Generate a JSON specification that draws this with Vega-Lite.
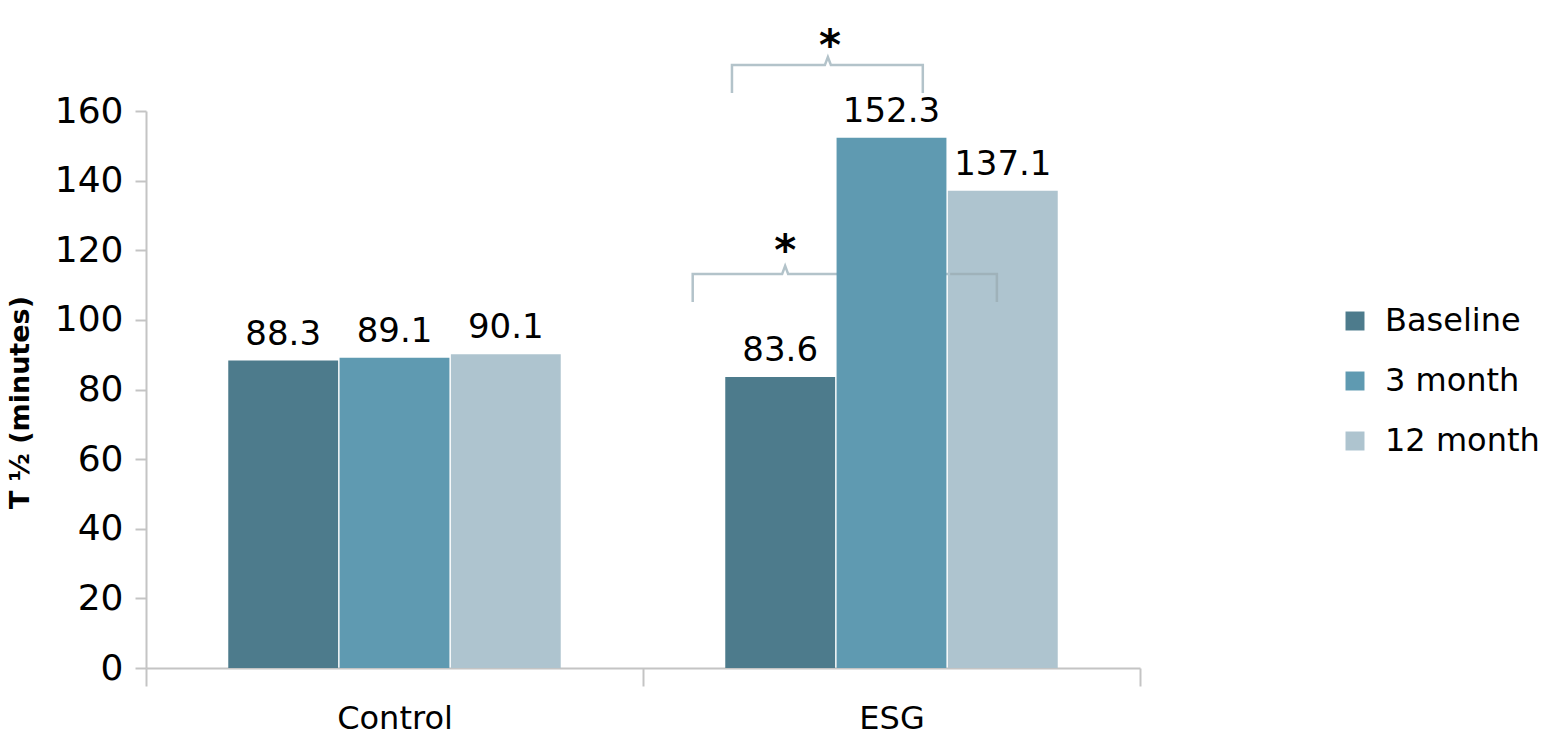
{
  "$schema": "https://vega.github.io/schema/vega-lite/v6.json",
  "width": 994,
  "height": 557,
  "autosize": {"type": "none"},
  "padding": {"left": 146, "top": 111, "right": 410, "bottom": 82},
  "background": "white",
  "config": {
    "view": {"stroke": null},
    "font": "DejaVu Sans"
  },
  "datasets": {
    "bars": [
      {"group": "Control", "series": "Baseline", "value": 88.3},
      {"group": "Control", "series": "3 month", "value": 89.1},
      {"group": "Control", "series": "12 month", "value": 90.1},
      {"group": "ESG", "series": "Baseline", "value": 83.6},
      {"group": "ESG", "series": "3 month", "value": 152.3},
      {"group": "ESG", "series": "12 month", "value": 137.1}
    ],
    "brackets": [
      {"bracket": "lower", "i": 1, "pos": 1.100, "value": 105.1},
      {"bracket": "lower", "i": 2, "pos": 1.100, "value": 113.2},
      {"bracket": "lower", "i": 3, "pos": 1.280, "value": 113.2},
      {"bracket": "lower", "i": 4, "pos": 1.286, "value": 115.5},
      {"bracket": "lower", "i": 5, "pos": 1.292, "value": 113.2},
      {"bracket": "lower", "i": 6, "pos": 1.712, "value": 113.2},
      {"bracket": "lower", "i": 7, "pos": 1.712, "value": 105.1},
      {"bracket": "upper", "i": 1, "pos": 1.179, "value": 165.2},
      {"bracket": "upper", "i": 2, "pos": 1.179, "value": 173.2},
      {"bracket": "upper", "i": 3, "pos": 1.366, "value": 173.2},
      {"bracket": "upper", "i": 4, "pos": 1.372, "value": 175.5},
      {"bracket": "upper", "i": 5, "pos": 1.378, "value": 173.2},
      {"bracket": "upper", "i": 6, "pos": 1.563, "value": 173.2},
      {"bracket": "upper", "i": 7, "pos": 1.563, "value": 165.2}
    ],
    "bracketFront": [
      {"bracket": "lower", "i": 1, "pos": 1.618, "value": 113.2},
      {"bracket": "lower", "i": 2, "pos": 1.712, "value": 113.2},
      {"bracket": "lower", "i": 3, "pos": 1.712, "value": 105.1}
    ],
    "stars": [
      {"pos": 1.286, "value": 115.8, "label": "*"},
      {"pos": 1.376, "value": 174.6, "label": "*"}
    ]
  },
  "encoding": {
    "y": {
      "field": "value",
      "type": "quantitative",
      "scale": {"domain": [0, 160], "nice": false, "zero": true},
      "axis": {
        "values": [0, 20, 40, 60, 80, 100, 120, 140, 160],
        "grid": false,
        "domainColor": "#c4c4c4",
        "domainWidth": 2,
        "tickColor": "#c4c4c4",
        "tickWidth": 2,
        "tickSize": 11,
        "labelFontSize": 36,
        "labelColor": "#000000",
        "labelPadding": 12,
        "title": "T ½ (minutes)",
        "titleFontSize": 27,
        "titleFontWeight": "bold",
        "titleColor": "#000000",
        "titleX": -126,
        "titleY": 291,
        "titleAngle": -90,
        "titleAlign": "center",
        "titleBaseline": "middle"
      }
    }
  },
  "layer": [
    {
      "layer": [
        {
          "data": {"name": "brackets"},
          "mark": {"type": "line", "color": "#b3c3ca", "strokeWidth": 2.5, "interpolate": "linear"},
          "encoding": {
            "x": {"field": "pos", "type": "quantitative", "scale": {"domain": [0, 2], "nice": false, "zero": false}, "axis": null},
            "detail": {"field": "bracket"},
            "order": {"field": "i", "type": "quantitative"}
          }
        },
        {
          "data": {"name": "stars"},
          "mark": {"type": "text", "fontSize": 42, "fontWeight": "bold", "color": "#000000", "baseline": "alphabetic", "align": "center"},
          "encoding": {
            "x": {"field": "pos", "type": "quantitative", "scale": {"domain": [0, 2], "nice": false, "zero": false}, "axis": null},
            "text": {"field": "label"}
          }
        }
      ]
    },
    {
      "data": {"name": "bars"},
      "encoding": {
        "x": {
          "field": "group",
          "type": "nominal",
          "scale": {"paddingInner": 0, "paddingOuter": 0},
          "axis": {
            "title": null,
            "labelAngle": 0,
            "labelFontSize": 32,
            "labelColor": "#000000",
            "labelPadding": 17,
            "tickBand": "extent",
            "tickSize": 18,
            "tickColor": "#c4c4c4",
            "tickWidth": 2,
            "domainColor": "#c4c4c4",
            "domainWidth": 2
          }
        },
        "xOffset": {
          "field": "series",
          "type": "nominal",
          "sort": ["Baseline", "3 month", "12 month"],
          "scale": {"paddingInner": 0.013, "paddingOuter": 0.739}
        }
      },
      "layer": [
        {
          "mark": {"type": "bar"},
          "encoding": {
            "color": {
              "field": "series",
              "type": "nominal",
              "sort": ["Baseline", "3 month", "12 month"],
              "scale": {"domain": ["Baseline", "3 month", "12 month"], "range": ["#4d7b8c", "#5f9ab1", "#aec4cf"]},
              "legend": {
                "title": null,
                "orient": "none",
                "legendX": 1193,
                "legendY": 194,
                "symbolType": "square",
                "symbolSize": 360,
                "symbolStrokeWidth": 0,
                "symbolOpacity": 1,
                "labelFontSize": 32,
                "labelColor": "#000000",
                "labelOffset": 14,
                "rowPadding": 28
              }
            }
          }
        },
        {
          "mark": {"type": "text", "fontSize": 34, "color": "#000000", "baseline": "alphabetic", "align": "center", "dy": -16},
          "encoding": {
            "text": {"field": "value", "type": "quantitative", "format": ".1f"}
          }
        }
      ]
    },
    {
      "data": {"name": "bracketFront"},
      "mark": {"type": "line", "color": "#9fb2ba", "strokeWidth": 2.5, "interpolate": "linear"},
      "encoding": {
        "x": {"field": "pos", "type": "quantitative", "scale": {"domain": [0, 2], "nice": false, "zero": false}, "axis": null},
        "detail": {"field": "bracket"},
        "order": {"field": "i", "type": "quantitative"}
      }
    }
  ],
  "resolve": {"scale": {"x": "independent"}}
}
